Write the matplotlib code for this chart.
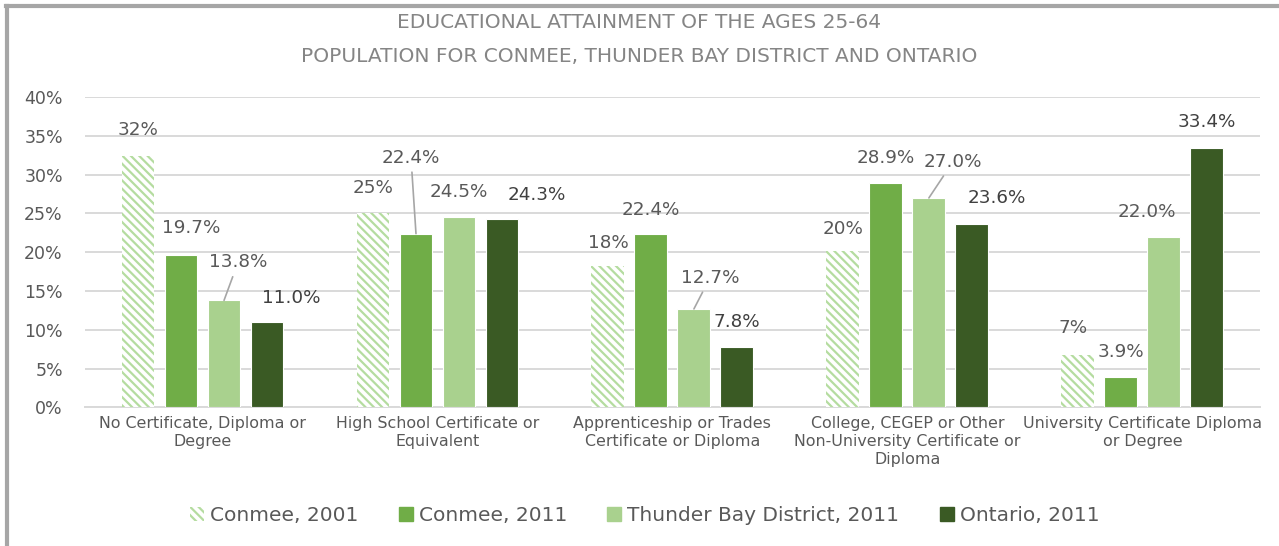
import matplotlib
matplotlib.use('Agg')
import matplotlib.pyplot as plt
from matplotlib.patches import Patch
from matplotlib.lines import Line2D
import numpy as np

categories = ['No Certificate, Diploma or\nDegree',
              'High School Certificate or\nEquivalent',
              'Apprenticeship or Trades\nCertificate or Diploma',
              'College, CEGEP or Other\nNon-University Certificate or\nDiploma',
              'University Certificate Diploma\nor Degree']
series_names = ['Conmee, 2001', 'Conmee, 2011',
                'Thunder Bay District, 2011', 'Ontario, 2011']
conmee_2001 = [32.4, 25.0, 18.2, 20.2, 6.7]
conmee_2011 = [19.7, 22.4, 22.4, 28.9, 3.9]
thunder_bay_2011 = [13.8, 24.5, 12.7, 27.0, 22.0]
ontario_2011 = [11.0, 24.3, 7.8, 23.6, 33.4]
label_fmt = ['{:.0f}%', '{:.1f}%', '{:.1f}%', '{:.1f}%']
yticks = [0, 5, 10, 15, 20, 25, 30, 35, 40]

# label offsets (px) from top-centre of each bar, and which get leader lines
offsets = [
    [(0, 26), (0, 25), (0, 23), (0, 22), (-5, 27)],
    [(10, 27), (-5, 76), (0, 24), (0, 25), (0, 25)],
    [(14, 38), (0, 25), (16, 31), (24, 36), (-17, 25)],
    [(24, 24), (35, 24), (0, 25), (25, 26), (0, 26)],
]
leaders = {(2, 0), (1, 1), (2, 2), (2, 3)}

colors = ['#b5dca0', '#70ad47', '#a9d18e', '#3a5a24']
text_c = '#595959'

plt.rcParams['font.family'] = 'DejaVu Sans'
plt.rcParams['hatch.linewidth'] = 1.6

fig = plt.figure(figsize=(12.79, 5.46), dpi=100)
ax = fig.add_axes([0.0665, 0.2537, 0.9185, 0.5686])

data = [conmee_2001, conmee_2011, thunder_bay_2011, ontario_2011]
x = np.arange(len(categories))
w = 0.140
step = 0.183
for i, vals in enumerate(data):
    xs = x + (i - 1.5) * step
    if i == 0:
        ax.bar(xs, vals, w, facecolor='white', edgecolor=colors[0],
               hatch='\\\\\\\\', linewidth=0, zorder=3)
    else:
        ax.bar(xs, vals, w, color=colors[i], edgecolor='white',
               linewidth=0.8, zorder=3)
    for j, v in enumerate(vals):
        dx, dy = offsets[i][j]
        kw = dict(ha='center', va='center', fontsize=13.2,
                  color='#404040' if i == 3 else text_c,
                  textcoords='offset points', zorder=5)
        if (i, j) in leaders:
            kw['arrowprops'] = dict(arrowstyle='-', color='#a6a6a6',
                                    lw=1.2, shrinkA=2, shrinkB=0)
        ax.annotate(label_fmt[i].format(v), (xs[j], v),
                    xytext=(dx * 0.72, dy * 0.72), **kw)

ax.set_xlim(-0.5, 4.5)
ax.set_ylim(0, 40)
ax.set_yticks(yticks)
ax.set_yticklabels([f'{t}%' for t in yticks])
ax.set_xticks(x)
ax.set_xticklabels(categories, fontsize=11.4, color=text_c, linespacing=1.25)
ax.tick_params(axis='y', length=0, pad=16, labelsize=12.5, labelcolor=text_c)
ax.tick_params(axis='x', length=0, pad=6)
ax.grid(axis='y', color='#d9d9d9', lw=1.4, zorder=0)
ax.spines[['top', 'right', 'left']].set_visible(False)
ax.spines['bottom'].set_color('#d9d9d9')
ax.spines['bottom'].set_linewidth(1.4)

fig.text(0.5, 0.958, 'EDUCATIONAL ATTAINMENT OF THE AGES 25-64',
         ha='center', va='center', fontsize=14.5, color='#858585')
fig.text(0.5, 0.897, 'POPULATION FOR CONMEE, THUNDER BAY DISTRICT AND ONTARIO',
         ha='center', va='center', fontsize=14.5, color='#858585')

handles = [Patch(facecolor='white', edgecolor=colors[0], hatch='\\\\\\\\', lw=0)]
handles += [Patch(color=c) for c in colors[1:]]
fig.legend(handles, series_names, loc='center', bbox_to_anchor=(0.504, 0.055),
           ncol=4, frameon=False, fontsize=14.5, handlelength=0.7,
           handleheight=0.7, handletextpad=0.3, columnspacing=2.0,
           labelcolor=text_c)

# chart frame (top and left edges visible)
fig.add_artist(Line2D([0.005, 1.0], [0.989, 0.989], color='#a6a6a6', lw=3,
                      transform=fig.transFigure))
fig.add_artist(Line2D([0.0055, 0.0055], [0.0, 0.989], color='#a6a6a6', lw=3,
                      transform=fig.transFigure))

fig.savefig('out.png', dpi=100)
